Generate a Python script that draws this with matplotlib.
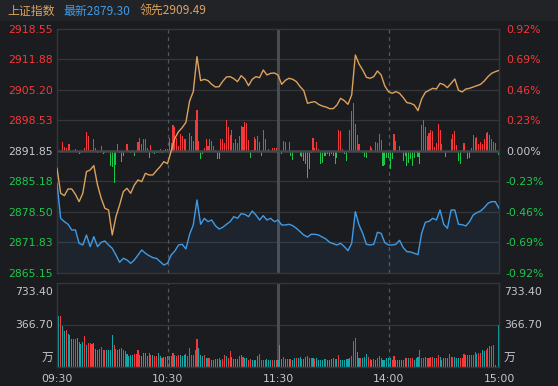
import numpy as np
import matplotlib.pyplot as plt
from matplotlib.patches import Rectangle

# 上证指数 分时图 (1-minute bars, lines sampled every 2 minutes)
prev_close = 2891.85
price_ticks = [2918.55, 2911.88, 2905.20, 2898.53, 2891.85, 2885.18, 2878.50, 2871.83, 2865.15]
pct_labels = ['0.92%', '0.69%', '0.46%', '0.23%', '0.00%', '-0.23%', '-0.46%', '-0.69%', '-0.92%']
vol_max = 733.40
vol_mid = 366.70
time_pos = [0, 60, 120, 180, 240]
time_labels = ['09:30', '10:30', '11:30', '14:00', '15:00']

# 最新 (index), every 2 minutes
price = [2884.78, 2877.12, 2876.39, 2875.81, 2874.57, 2874.57, 2871.65, 2871.28, 2873.47, 2870.92,
         2873.11, 2870.92, 2871.87, 2872.16, 2871.28, 2870.55, 2869.09, 2867.49, 2868.36, 2868.00,
         2867.27, 2868.00, 2869.09, 2870.19, 2869.46, 2868.95, 2868.51, 2868.36, 2867.64, 2866.91,
         2867.27, 2869.09, 2869.97, 2871.28, 2871.43, 2870.41, 2873.62, 2875.66, 2881.13, 2875.81,
         2877.12, 2876.39, 2876.75, 2875.51, 2874.78, 2875.15, 2875.81, 2876.39, 2877.48, 2877.12,
         2878.14, 2877.99, 2877.48, 2878.72, 2877.85, 2876.75, 2877.70, 2876.75, 2877.12, 2876.39,
         2876.75, 2875.66, 2875.66, 2875.81, 2875.51, 2874.93, 2874.20, 2873.47, 2873.03, 2873.62,
         2873.62, 2873.47, 2873.03, 2872.60, 2871.87, 2871.57, 2871.28, 2871.65, 2870.92, 2870.04,
         2871.65, 2878.58, 2875.66, 2873.84, 2871.43, 2871.28, 2871.43, 2874.06, 2873.84, 2871.79,
         2871.28, 2871.28, 2871.43, 2872.30, 2870.70, 2869.82, 2869.75, 2869.46, 2869.17, 2873.84,
         2876.24, 2876.46, 2877.12, 2876.75, 2878.94, 2875.81, 2874.93, 2878.94, 2878.94, 2875.81,
         2875.73, 2875.44, 2876.39, 2877.85, 2878.36, 2878.72, 2879.45, 2880.40, 2880.77, 2880.77,
         2879.30]

# 领先 (leading index), every 2 minutes
lead = [2888.06, 2882.59, 2882.08, 2883.54, 2883.54, 2882.37, 2880.77, 2882.59, 2887.33, 2887.70,
        2888.65, 2884.41, 2881.50, 2879.31, 2878.94, 2873.47, 2877.48, 2880.04, 2882.95, 2883.68,
        2882.59, 2884.41, 2885.51, 2885.14, 2886.97, 2886.60, 2886.60, 2887.55, 2888.43, 2889.52,
        2889.08, 2891.85, 2894.63, 2896.09, 2896.96, 2898.13, 2902.80, 2904.84, 2912.50, 2907.25,
        2907.54, 2907.25, 2906.44, 2905.86, 2905.93, 2907.10, 2908.05, 2908.12, 2907.69, 2907.03,
        2908.34, 2907.61, 2906.15, 2907.54, 2908.12, 2907.90, 2909.58, 2908.49, 2908.85, 2908.93,
        2908.49, 2906.44, 2907.32, 2907.76, 2907.54, 2907.03, 2905.93, 2905.06, 2902.29, 2902.51,
        2902.65, 2902.07, 2901.70, 2901.48, 2901.12, 2901.12, 2901.92, 2903.38, 2902.87, 2902.07,
        2904.11, 2912.86, 2910.89, 2909.58, 2907.98, 2907.76, 2908.12, 2909.36, 2908.49, 2906.08,
        2904.84, 2904.48, 2904.84, 2904.48, 2903.53, 2902.43, 2902.29, 2901.92, 2900.68, 2903.24,
        2904.69, 2905.13, 2905.57, 2905.42, 2906.66, 2906.37, 2905.72, 2906.66, 2907.61, 2905.13,
        2904.77, 2905.42, 2905.57, 2905.86, 2906.15, 2906.44, 2907.17, 2908.12, 2908.85, 2909.22,
        2909.49]

# red/green strength bars around previous close (points), per minute
power = [0, -0.15, -0.15, 1.9, 0.95, 0.6, 1.5, 1.5, -0.15, 0.2,
         0.4, -0.3, -0.7, -0.4, -0.3, 0.6, 4.1, 3.3, 0.2, 0.2,
         2.6, 0.6, -0.5, 0, 1.1, -0.7, -0.4, -0.15, -0.3, -3.3,
         -3.4, -6.9, -3.1, 1.5, -0.5, -2.3, -1.2, -0.3, 1.5, 0.2,
         -0.4, 0.15, -1.2, 0.15, 2.0, 2.8, 1.5, 2.6, 2.6, 0.6,
         -1.5, 1.3, -0.4, -0.7, -0.5, -0.5, 0.4, -0.5, 0.2, 0.4,
         0.4,
         2.9, 1.8, 5.7, 5.3, 2.9, 1.1, 3.7, 3.3, 2.6, 2.7,
         -0.2, 4.0, 3.3, 2.2, 6.7, 8.9, 2.2, -1.8, -0.7, 0.7,
         2.6, 1.1, 2.7, 2.2, 1.2, 0.2, -1.8, -1.7, 2.6, 2.6,
         1.8, 6.8, 5.3, 3.5, 4.6, 1.7, 2.6, 1.8, 3.3, 5.5,
         5.3, 6.4, 6.2, 2.4, -1.5, 0.2, 3.1, 2.6, 3.3, 2.0,
         -1.2, 4.7, 2.6, -0.2, 0.5, 0, 0.7, 0.7, 0.7, -0.4,
         -0.2, -0.6, 2.2, 2.0, 0, 2.0, -1.1, -2.0, 0, -0.2,
         -0.2, -1.1, -1.3, -2.2, -2.8, -5.8, -4.0, -0.4, 2.8, 0.6,
         2.0, 0.5, -2.8, -2.6, -1.1, -1.1, -0.7, -1.1, -0.6, -1.1,
         -2.9, -1.5, 4.6, 4.4, 0.5, -0.7, -2.2, 0, 4.7, 8.8,
         10.6, 5.8, 3.5, 1.5, 0, -0.4, -1.3, -1.5, -0.2, 1.2,
         0.6, 0, 2.0, 1.7, 3.8, 2.4, -3.3, -3.1, -1.5, -1.5,
         -4.0, -1.8, 3.7, 2.2, 0, 1.1, -0.2, -2.2, -1.1, -3.3,
         -2.6, -1.8, -3.3, -1.5, -0.4, -1.3, -2.9, 5.7, 6.8, 5.3,
         3.3, 4.0, 4.6, 4.4, 0.9, 1.8, 5.8, 4.6, 1.5, 0,
         -1.3, -0.2, 0, 2.7, 3.7, 4.4, 1.3, -2.2, -2.9, -0.2,
         1.8, 0, -1.7, -1.5, 0.6, 3.5, 2.8, 3.1, 1.5, 2.0,
         1.5, 2.6, 4.0, 4.2, 3.5, 2.6, 2.0, 1.8, 0, -0.9]

# volume (万), per minute, and direction R = up / T = down
auction_vol = 225
volume = [733.4, 448, 448, 355, 311, 326, 291, 282, 244, 244,
          244, 253, 215, 204, 221, 268, 195, 210, 210, 204,
          210, 160, 151, 160, 175, 146, 146, 151, 151, 151,
          282, 195, 160, 146, 160, 166, 146, 137, 116, 99,
          108, 108, 116, 116, 151, 108, 99, 122, 122, 99,
          122, 108, 108, 99, 93, 122, 93, 81, 84, 90,
          95, 99, 93, 122, 108, 99, 108, 108, 93, 108,
          116, 93, 166, 108, 108, 151, 244, 166, 108, 93,
          108, 79, 79, 79, 64, 64, 70, 70, 79, 64,
          70, 108, 99, 79, 143, 87, 70, 70, 70, 99,
          108, 87, 81, 81, 64, 70, 64, 64, 64, 93,
          116, 64, 64, 64, 73, 58, 58, 64, 60, 62,
          58,
          189, 70, 87, 70, 70, 70, 70, 64, 79, 79,
          79, 87, 73, 70, 87, 99, 79, 79, 79, 70,
          79, 64, 64, 64, 70, 70, 64, 64, 70, 79,
          70, 70, 108, 64, 64, 64, 70, 70, 79, 99,
          230, 253, 134, 79, 79, 79, 87, 116, 87, 70,
          64, 70, 64, 79, 93, 76, 64, 64, 79, 76,
          76, 64, 93, 58, 64, 64, 64, 58, 79, 79,
          79, 79, 79, 64, 76, 87, 151, 76, 76, 87,
          76, 79, 84, 84, 79, 79, 108, 87, 64, 76,
          76, 76, 116, 84, 87, 84, 79, 79, 79, 79,
          116, 108, 108, 108, 108, 108, 134, 116, 125, 125,
          151, 143, 146, 166, 180, 186, 195, 20, 0, 370]
vol_dir = ("TTRTTRTTTR" "RTTTTRTRRR" "TTRRRRRTTT" "TRRTTRRRTT" "TTRRRRTTTT" "TRTRRTTRTT"
           "RRRRTRRTTT" "TRRRRRRTTT" "RTRRTTTTRT" "RRTRRTTTTR" "RRTTRRTTTT" "RRRRTTTRTR" "T"
           "TTRTRTRTTR" "TTRTTTRRTR" "TTTTTRTTTT" "RTRTTTTTTR" "RRTTRTTTRR" "TRTRRTTTTT"
           "TRRTRTTRTR" "TRRTTTRRRT" "RRRRTRRTTT" "TTRRRTTTRR" "RTRRRRRTRR" "TTRRRRRTTT")

BG = '#1b1c20'
HEADER = '#222327'
GRID = '#35363b'
RED = '#f5383a'
GREEN = '#1cc84c'
TEAL = '#12a8aa'
BLUE = '#3f9be6'
ORANGE = '#dca25c'
TXT = '#c5c8cf'
CJK = ['Noto Sans CJK SC', 'DejaVu Sans']

W, H = 558, 386
fig = plt.figure(figsize=(W / 100, H / 100), dpi=100, facecolor=BG)
fig.patches.append(Rectangle((0, 1 - 20 / H), 1, 20 / H, transform=fig.transFigure,
                             color=HEADER, zorder=0))

fig.text(7 / W, 1 - 11 / H, '上证指数', color=ORANGE, fontsize=8.6, va='center', family=CJK)
fig.text(63 / W, 1 - 11 / H, '最新%.2f' % price[-1], color=BLUE, fontsize=8.6, va='center', family=CJK)
fig.text(140 / W, 1 - 11 / H, '领先%.2f' % lead[-1], color=ORANGE, fontsize=8.6, va='center', family=CJK)

minutes = np.arange(len(power))
x2 = np.arange(0, 241, 2)

# main panel
ax = fig.add_axes([57 / W, (H - 273) / H, 442 / W, 244 / H])
ax.set_facecolor(BG)
ax.set_xlim(0, 240)
ax.set_ylim(price_ticks[-1], price_ticks[0])
for s in ax.spines.values():
    s.set_color(GRID)
    s.set_linewidth(1)
for t in price_ticks[1:-1]:
    if t != prev_close:
        ax.axhline(t, color=GRID, lw=0.9, zorder=1)
ax.axvline(60, color='#55575d', lw=0.9, ls=(0, (3, 3)), zorder=1)
ax.axvline(180, color='#55575d', lw=0.9, ls=(0, (3, 3)), zorder=1)
ax.axvline(120, color='#4a4c52', lw=2.2, zorder=1)

pcol = [RED if v > 0 else GREEN for v in power]
ax.bar(minutes, power, bottom=prev_close, width=0.58, color=pcol, antialiased=False, zorder=2)
ax.axhline(prev_close, color='#45474c', lw=1.8, zorder=2)

ax.fill_between(x2, price, price_ticks[-1], color=BLUE, alpha=0.07, lw=0, zorder=2)
ax.plot(x2, lead, color=ORANGE, lw=1.0, zorder=3)
ax.plot(x2, price, color=BLUE, lw=1.0, zorder=3)

ax.set_xticks([])
ax.set_yticks(price_ticks)
ax.set_yticklabels(['%.2f' % t for t in price_ticks])
ax.tick_params(axis='y', length=0, pad=3, labelsize=7.8)
lab_colors = [RED] * 4 + [TXT] + [GREEN] * 4
for lab, c in zip(ax.get_yticklabels(), lab_colors):
    lab.set_color(c)

ax_r = ax.twinx()
ax_r.set_ylim(price_ticks[-1], price_ticks[0])
ax_r.set_yticks(price_ticks)
ax_r.set_yticklabels(pct_labels)
ax_r.tick_params(axis='y', length=0, pad=5, labelsize=7.8)
for s in ax_r.spines.values():
    s.set_visible(False)
for lab, c in zip(ax_r.get_yticklabels(), lab_colors):
    lab.set_color(c)

# volume panel
av = fig.add_axes([57 / W, (H - 367) / H, 442 / W, 84 / H])
av.set_facecolor(BG)
av.set_xlim(0, 240)
av.set_ylim(0, vol_max)
for s in av.spines.values():
    s.set_color(GRID)
    s.set_linewidth(1)
av.axhline(vol_mid, color=GRID, lw=0.9, zorder=1)
av.axvline(60, color='#55575d', lw=0.9, ls=(0, (3, 3)), zorder=1)
av.axvline(180, color='#55575d', lw=0.9, ls=(0, (3, 3)), zorder=1)
av.axvline(120, color='#4a4c52', lw=2.2, zorder=1)

vol_x = np.arange(len(volume), dtype=float)
vol_x[0] += 0.5
vol_x[-1] -= 0.3
vcol = [RED if d == 'R' else TEAL for d in vol_dir]
av.bar(vol_x, volume, width=0.58, color=vcol, antialiased=False, zorder=2)
av.bar(0.1, auction_vol, width=0.4, color='#e8e8e8', zorder=2)

av.set_yticks([])
av.set_xticks(time_pos)
av.set_xticklabels(time_labels)
av.tick_params(axis='x', length=0, pad=5, labelsize=7.8, colors=TXT)

for yy, txt in [(292, '%.2f' % vol_max), (325, '%.2f' % vol_mid)]:
    fig.text(53 / W, 1 - yy / H, txt, color=TXT, fontsize=7.8, ha='right', va='center')
    fig.text(504 / W, 1 - yy / H, txt, color=TXT, fontsize=7.8, ha='left', va='center')
fig.text(53 / W, 1 - 358 / H, '万', color=TXT, fontsize=8.4, ha='right', va='center', family=CJK)
fig.text(504 / W, 1 - 358 / H, '万', color=TXT, fontsize=8.4, ha='left', va='center', family=CJK)

fig.savefig('out.png', dpi=100, facecolor=BG)
